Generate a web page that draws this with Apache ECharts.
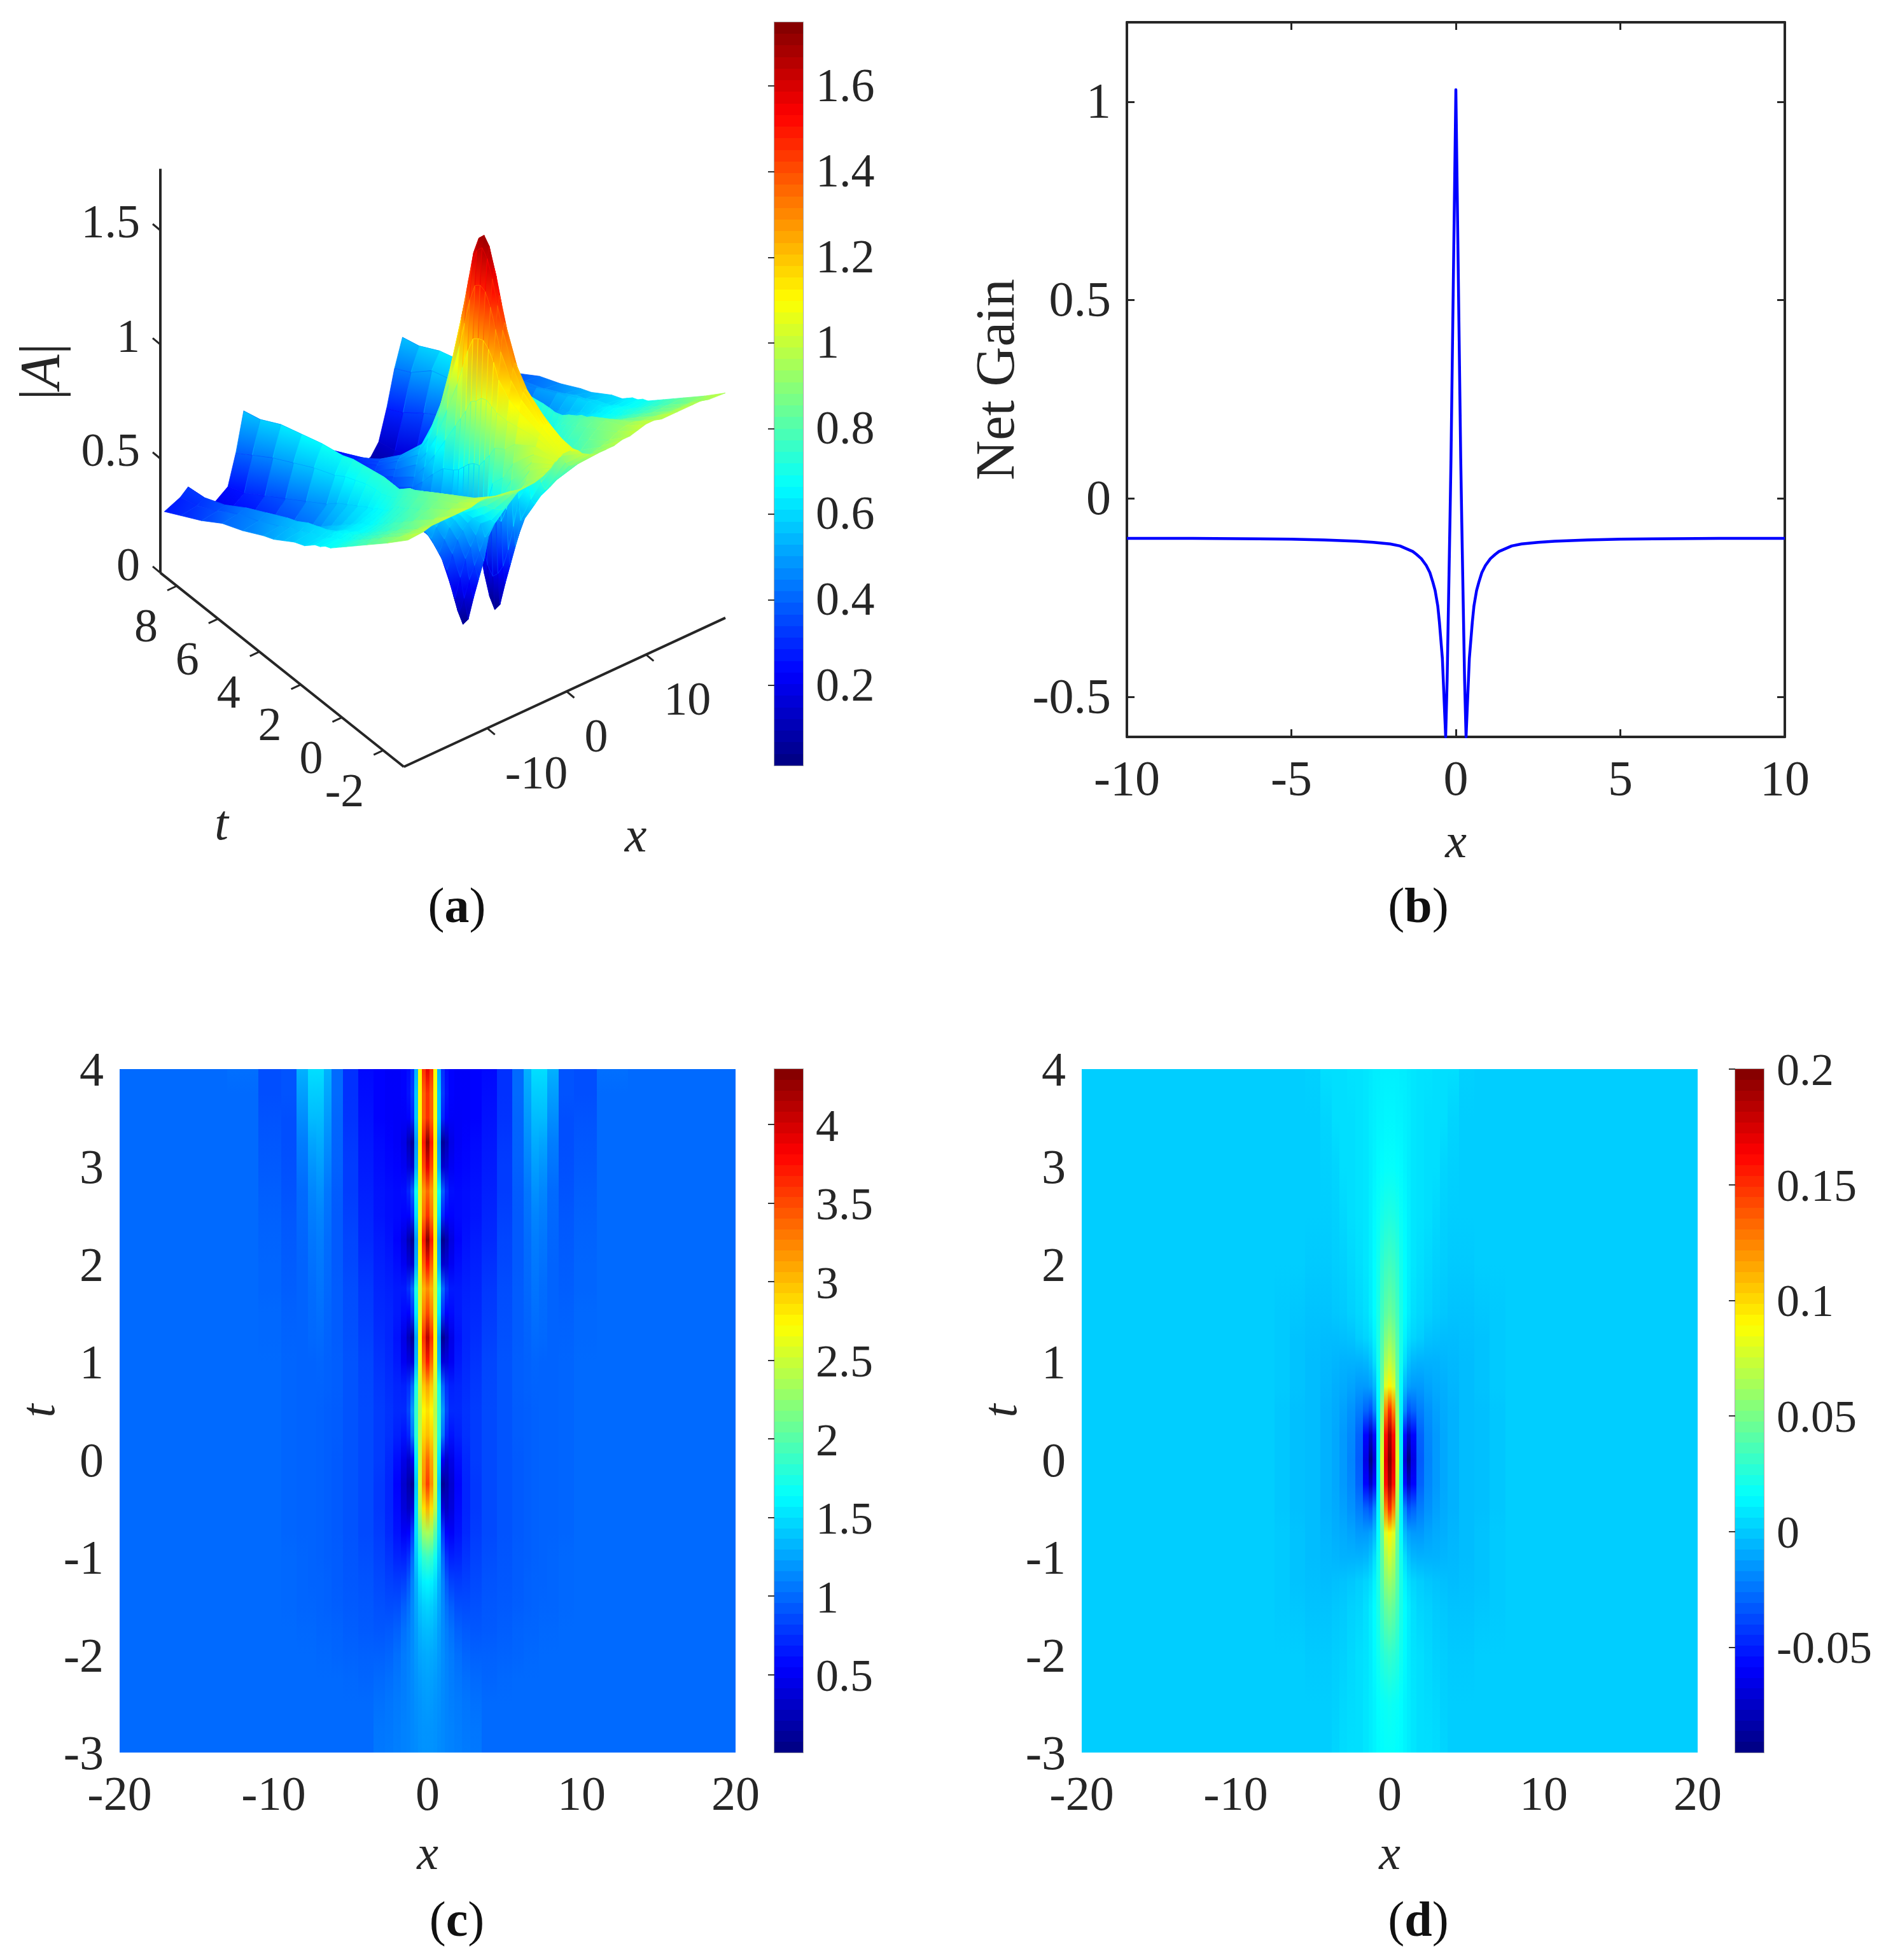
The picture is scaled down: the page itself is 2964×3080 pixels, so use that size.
<!DOCTYPE html>
<html>
<head>
<meta charset="utf-8">
<style>html,body{margin:0;padding:0;background:#fff}#main{width:2964px;height:3080px}</style>
<script src="https://cdn.jsdelivr.net/npm/echarts@6/dist/echarts.min.js"></script>
</head>
<body>
<div id="main"></div>
<script>
// ---- panel (a): |A| surface. Rows are t, columns are |x| (surface is symmetric)
var surfT = [-3,-2,-1,-0.5,0,0.25,0.5,0.75,1,1.25,1.5,1.75,2,2.5,3,3.5,4,5,6,7,8,8.8];
var surfX = [0,0.25,0.5,0.75,1,1.25,1.5,1.75,2,2.5,3,4,5,6,7,8,9,10,11,12,14,16,17,18,20];
var surfZ = [
[1.05,1.05,1.05,1.04,1.04,1.03,1.03,1.02,1.01,1.0,.99,.98,.98,.98,.99,.99,1.0,1.01,1.01,1.0,1.0,1.0,1.0,.99,.985],
[1.10,1.10,1.09,1.07,1.05,1.02,.99,.96,.93,.89,.87,.86,.87,.88,.89,.90,.92,.93,.93,.92,.91,.90,.90,.90,.90],
[1.18,1.17,1.14,1.09,1.03,.96,.88,.81,.74,.70,.70,.72,.75,.78,.80,.83,.86,.88,.87,.85,.83,.82,.82,.82,.82],
[1.26,1.24,1.19,1.11,1.02,.90,.78,.70,.63,.60,.62,.66,.70,.73,.76,.79,.83,.85,.84,.81,.79,.78,.78,.78,.78],
[1.40,1.37,1.28,1.16,1.02,.87,.72,.60,.50,.50,.57,.61,.65,.69,.72,.76,.80,.82,.81,.78,.75,.74,.74,.74,.74],
[1.50,1.46,1.36,1.22,1.03,.82,.62,.46,.37,.42,.50,.57,.62,.66,.70,.74,.78,.80,.79,.76,.73,.72,.72,.72,.72],
[1.60,1.56,1.44,1.26,1.04,.78,.52,.34,.27,.34,.43,.52,.58,.63,.67,.72,.77,.79,.78,.75,.71,.70,.71,.70,.70],
[1.68,1.63,1.49,1.28,1.03,.74,.45,.25,.17,.26,.36,.46,.53,.59,.65,.70,.75,.78,.76,.73,.69,.68,.69,.68,.68],
[1.71,1.66,1.50,1.27,1.00,.73,.45,.20,.06,.16,.26,.38,.46,.53,.60,.66,.72,.76,.74,.70,.67,.67,.68,.67,.67],
[1.68,1.63,1.48,1.25,.98,.71,.43,.17,.02,.08,.15,.29,.38,.46,.53,.59,.65,.74,.72,.68,.65,.65,.66,.65,.65],
[1.60,1.55,1.40,1.18,.92,.68,.42,.20,.06,.13,.20,.32,.40,.47,.53,.59,.65,.74,.71,.67,.64,.64,.65,.64,.64],
[1.46,1.41,1.28,1.09,.87,.65,.44,.28,.14,.22,.28,.36,.42,.47,.53,.59,.65,.74,.70,.65,.62,.62,.63,.62,.62],
[1.32,1.28,1.16,1.00,.82,.63,.47,.34,.24,.28,.36,.38,.42,.47,.52,.58,.65,.74,.70,.64,.60,.60,.62,.61,.60],
[1.07,1.04,.96,.85,.72,.60,.48,.40,.35,.34,.36,.38,.41,.45,.51,.58,.65,.73,.69,.61,.56,.57,.60,.59,.58],
[.85,.83,.78,.70,.62,.54,.46,.40,.36,.33,.32,.34,.38,.43,.50,.57,.65,.72,.67,.58,.52,.54,.58,.56,.55],
[.70,.68,.65,.59,.53,.47,.42,.37,.34,.30,.28,.28,.33,.40,.47,.56,.64,.71,.65,.55,.48,.51,.55,.54,.52],
[.58,.57,.54,.50,.45,.41,.37,.33,.30,.26,.23,.22,.27,.34,.43,.53,.62,.69,.62,.51,.44,.48,.53,.51,.50],
[.46,.45,.44,.41,.38,.34,.31,.28,.25,.21,.18,.14,.17,.24,.35,.48,.60,.67,.58,.45,.37,.42,.48,.46,.45],
[.37,.36,.35,.33,.31,.29,.26,.23,.21,.17,.14,.10,.10,.15,.27,.43,.57,.64,.53,.39,.31,.37,.43,.42,.41],
[.30,.30,.29,.27,.26,.24,.22,.20,.18,.15,.12,.09,.08,.11,.20,.37,.54,.61,.48,.33,.26,.32,.37,.36,.35],
[.25,.25,.24,.23,.22,.20,.19,.17,.16,.13,.11,.08,.07,.09,.15,.30,.46,.56,.42,.27,.22,.27,.33,.31,.30],
[.21,.21,.20,.19,.18,.17,.16,.15,.14,.12,.10,.08,.07,.08,.13,.26,.42,.54,.37,.24,.19,.24,.32,.29,.26]
];
var surfTickX = [-10,0,10];
var surfTickT = [-2,0,2,4,6,8];
var surfTickZ = [0,0.5,1,1.5];

// ---- panel (b): net gain
var gainX = [-10,-8,-6,-5,-4,-3,-2.5,-2,-1.7,-1.31,-1.2,-1.05,-0.9,-0.79,-0.7,-0.63,-0.55,-0.5,-0.41,-0.31,-0.265,-0.18,-0.148,0,
             0.148,0.18,0.265,0.31,0.41,0.5,0.55,0.63,0.7,0.79,0.9,1.05,1.2,1.31,1.7,2,2.5,3,4,5,6,8,10];
var gainY = [-0.1,-0.1,-0.101,-0.102,-0.104,-0.107,-0.11,-0.114,-0.119,-0.133,-0.14,-0.151,-0.168,-0.186,-0.21,-0.231,-0.27,-0.311,-0.402,-0.6,-0.456,-0.06,0.1,1.03,
             0.1,-0.06,-0.456,-0.6,-0.402,-0.311,-0.27,-0.231,-0.21,-0.186,-0.168,-0.151,-0.14,-0.133,-0.119,-0.114,-0.11,-0.107,-0.104,-0.102,-0.101,-0.1,-0.1];
var gainTickY = [-0.5,0,0.5,1];

// ---- panel (c): rows are t, columns are |x|
var fieldCT = [4,3.75,3.5,3.25,3,2.75,2.5,2.25,2,1.75,1.5,1.25,1,0.75,0.5,0.25,0,-0.25,-0.5,-0.75,-1,-1.25,-1.5,-1.75,-2,-2.25,-2.5,-2.75,-3];
var fieldCX = [0,0.25,0.5,0.75,1,1.25,1.5,2,2.5,3,4,5,6,6.5,7,7.5,8,9,10,12,14,17,20];
var fieldC = [
[3.9,3.6,2.7,1.3,.75,.6,.55,.52,.52,.55,.58,.75,1.0,1.3,1.5,1.5,1.3,.9,.88,1.02,1,1,1],
[3.6,3.4,2.7,1.4,.8,.62,.55,.53,.53,.55,.6,.75,1.0,1.25,1.42,1.42,1.22,.9,.88,1,1,1,1],
[3.6,3.4,2.7,1.4,.7,.55,.52,.52,.53,.55,.62,.76,.98,1.2,1.35,1.35,1.15,.88,.9,1,1,1,1],
[4.3,3.7,2.8,1.2,.12,.25,.45,.52,.55,.58,.64,.78,.97,1.15,1.28,1.25,1.08,.88,.92,1,1,1,1],
[3.9,3.5,2.75,1.3,.35,.4,.5,.55,.57,.6,.66,.8,.96,1.1,1.22,1.18,1.04,.89,.93,1,1,1,1],
[3.35,3.15,2.6,1.7,.95,.7,.6,.58,.6,.62,.68,.8,.94,1.05,1.16,1.12,1.0,.9,.95,1,1,1,1],
[3.6,3.3,2.65,1.5,.7,.55,.55,.58,.6,.63,.7,.82,.93,1.03,1.11,1.08,.99,.92,.96,1,1,1,1],
[4.3,3.7,2.8,1.2,.08,.22,.42,.55,.62,.66,.72,.84,.93,1.01,1.08,1.05,.98,.93,.97,1,1,1,1],
[3.75,3.4,2.7,1.3,.35,.38,.5,.6,.65,.68,.75,.85,.93,1.0,1.06,1.03,.97,.94,.98,1,1,1,1],
[3.2,3.05,2.55,1.75,1.0,.75,.65,.65,.68,.7,.78,.87,.94,.99,1.04,1.01,.97,.95,.98,1,1,1,1],
[3.5,3.25,2.6,1.55,.75,.55,.58,.65,.7,.72,.8,.88,.94,.98,1.02,1.0,.97,.96,.99,1,1,1,1],
[4.1,3.6,2.75,1.25,.1,.25,.45,.62,.7,.74,.82,.89,.94,.97,1.0,.99,.97,.97,.99,1,1,1,1],
[3.7,3.35,2.65,1.35,.4,.42,.5,.65,.72,.76,.84,.9,.95,.96,.98,.97,.97,.98,1,1,1,1,1],
[3.1,2.95,2.5,1.75,1.0,.75,.68,.7,.74,.78,.85,.9,.95,.96,.97,.97,.97,.98,1,1,1,1,1],
[2.85,2.75,2.4,1.85,1.2,.85,.72,.72,.76,.8,.86,.9,.94,.95,.96,.97,.97,.98,1,1,1,1,1],
[3.0,2.9,2.45,1.8,1.05,.7,.62,.68,.75,.8,.86,.9,.94,.95,.96,.97,.97,.98,1,1,1,1,1],
[3.35,3.1,2.5,1.55,.5,.35,.45,.6,.72,.8,.86,.9,.93,.95,.96,.97,.97,.98,1,1,1,1,1],
[3.55,3.2,2.55,1.4,.1,.2,.35,.55,.7,.78,.86,.9,.93,.95,.96,.97,.97,.98,1,1,1,1,1],
[3.05,2.85,2.4,1.5,.4,.3,.4,.58,.7,.78,.86,.9,.93,.95,.96,.97,.97,.98,1,1,1,1,1],
[2.35,2.3,2.0,1.5,.8,.55,.52,.62,.72,.8,.86,.9,.93,.95,.96,.97,.97,.98,1,1,1,1,1],
[1.9,1.85,1.7,1.4,1.0,.75,.68,.7,.77,.83,.88,.91,.94,.95,.96,.97,.98,.99,1,1,1,1,1],
[1.6,1.58,1.5,1.3,1.1,.92,.82,.8,.82,.86,.9,.92,.94,.96,.97,.97,.98,.99,1,1,1,1,1],
[1.45,1.43,1.38,1.26,1.13,1.02,.95,.88,.87,.89,.92,.93,.95,.96,.97,.98,.98,.99,1,1,1,1,1],
[1.35,1.34,1.3,1.22,1.14,1.08,1.03,.96,.93,.92,.93,.95,.97,.98,.98,.99,.99,1,1,1,1,1,1],
[1.28,1.27,1.25,1.2,1.15,1.1,1.07,1.02,.98,.96,.96,.97,.98,.99,.99,1,1,1,1,1,1,1,1],
[1.24,1.23,1.21,1.18,1.14,1.11,1.08,1.05,1.02,1.0,.98,.99,1,1,1,1,1,1,1,1,1,1,1],
[1.21,1.2,1.18,1.16,1.13,1.11,1.09,1.07,1.05,1.03,1,1,1,1,1,1,1,1,1,1,1,1,1],
[1.18,1.18,1.17,1.15,1.13,1.11,1.1,1.08,1.06,1.05,1,1,1,1,1,1,1,1,1,1,1,1,1],
[1.17,1.17,1.16,1.14,1.13,1.11,1.1,1.09,1.07,1.06,1,1,1,1,1,1,1,1,1,1,1,1,1]
];

// ---- panel (d): rows are t, columns are |x|
var fieldDT = [4,3.5,3,2.5,2,1.5,1.25,1,0.75,0.5,0.25,0,-0.25,-0.5,-0.75,-1,-1.25,-1.5,-2,-2.5,-3];
var fieldDX = [0,0.25,0.5,0.75,1,1.25,1.5,2,2.5,3,3.5,4,5,6,7,8,12,20];
var fieldD = [
[.011,.011,.011,.010,.010,.009,.008,.007,.007,.006,.006,.006,.002,.001,.001,.001,.001,.001],
[.013,.013,.012,.012,.011,.010,.008,.007,.006,.006,.006,.003,.001,.001,.001,.001,.001,.001],
[.016,.016,.015,.014,.012,.010,.008,.007,.006,.006,.003,.002,.001,.001,.001,.001,.001,.001],
[.024,.023,.021,.017,.014,.011,.008,.007,.006,.004,.002,.001,.001,.001,.001,.001,.001,.001],
[.034,.032,.028,.020,.015,.011,.008,.006,.004,.002,.001,.000,.000,.001,.001,.001,.001,.001],
[.046,.042,.034,.022,.015,.010,.006,.004,.002,.000,-.001,-.002,-.002,-.001,.000,.001,.001,.001],
[.058,.052,.038,.022,.012,.006,.003,.001,-.002,-.003,-.004,-.004,-.003,-.002,.000,.001,.001,.001],
[.072,.064,.042,.020,.006,-.002,-.006,-.007,-.007,-.007,-.006,-.005,-.004,-.002,.000,.001,.001,.001],
[.092,.080,.045,.015,-.005,-.012,-.014,-.014,-.011,-.009,-.008,-.006,-.004,-.002,.000,.001,.001,.001],
[.150,.125,.058,.012,-.020,-.035,-.030,-.022,-.016,-.012,-.009,-.007,-.004,-.003,-.001,.001,.001,.001],
[.190,.160,.070,.010,-.055,-.075,-.058,-.030,-.019,-.014,-.010,-.007,-.004,-.003,-.001,.001,.001,.001],
[.200,.170,.080,.010,-.070,-.095,-.066,-.032,-.020,-.014,-.010,-.007,-.004,-.003,-.001,.001,.001,.001],
[.190,.160,.070,.010,-.055,-.075,-.058,-.030,-.019,-.014,-.010,-.007,-.004,-.003,-.001,.001,.001,.001],
[.150,.125,.058,.012,-.020,-.035,-.030,-.022,-.016,-.012,-.009,-.007,-.004,-.003,-.001,.001,.001,.001],
[.092,.080,.045,.015,-.005,-.012,-.014,-.014,-.011,-.009,-.008,-.006,-.004,-.002,.000,.001,.001,.001],
[.075,.066,.042,.020,.006,-.002,-.006,-.007,-.007,-.007,-.006,-.005,-.004,-.002,.000,.001,.001,.001],
[.060,.055,.040,.022,.012,.006,.003,.001,-.001,-.002,-.003,-.004,-.003,-.002,.000,.001,.001,.001],
[.048,.044,.035,.022,.015,.010,.006,.003,.002,.000,-.001,-.002,-.002,-.001,.000,.001,.001,.001],
[.030,.028,.025,.019,.014,.010,.007,.006,.004,.002,.001,.000,.000,.001,.001,.001,.001,.001],
[.019,.018,.017,.015,.012,.010,.008,.006,.005,.004,.002,.001,.001,.001,.001,.001,.001,.001],
[.016,.016,.015,.014,.012,.010,.008,.006,.006,.005,.003,.001,.001,.001,.001,.001,.001,.001]
];

// colour limits and colorbar ticks
var climA = [0.013,1.749], climC = [0.004,4.352], climD = [-0.0956,0.2];
var barTicksA = [0.2,0.4,0.6,0.8,1,1.2,1.4,1.6];
var barTicksC = [0.5,1,1.5,2,2.5,3,3.5,4];
var barTicksD = [-0.05,0,0.05,0.1,0.15,0.2];
var jetStops = [[0,[0,0,127]],[0.125,[0,0,255]],[0.375,[0,255,255]],[0.625,[255,255,0]],[0.875,[255,0,0]],[1,[127,0,0]]];

var serif = '"Liberation Serif","Times New Roman",serif';
var ink = '#262626';

function jet(v, clim) {
    var f = Math.max(0, Math.min(1, (v - clim[0]) / (clim[1] - clim[0])));
    for (var i = 1; i < jetStops.length; i++) {
        if (f <= jetStops[i][0]) {
            var a = jetStops[i - 1], b = jetStops[i], k = (f - a[0]) / (b[0] - a[0]);
            return 'rgb(' + [0, 1, 2].map(function (c) { return Math.round(a[1][c] + (b[1][c] - a[1][c]) * k); }).join(',') + ')';
        }
    }
    return 'rgb(127,0,0)';
}

function box(l, t, r, b) { return {left: l, top: t, width: r - l, height: b - t, containLabel: false, outerBoundsMode: 'none'}; }
function barBox(l, t, b) { return {left: l, top: t, width: 45, height: b - t, show: true, borderColor: '#aaa', borderWidth: 2, outerBoundsMode: 'none'}; }

// y tick labels sit a little under their tick in the original; a padded rich token moves them down
function lowLabel(size, pad, margin, extra) {
    var lab = {
        show: true, margin: margin, fontSize: size, fontFamily: serif, color: ink,
        formatter: function (v) { return '{n|' + (+(+v).toFixed(3)) + '}'; },
        rich: {n: {padding: [pad, 0, 0, 0], fontSize: size, fontFamily: serif, color: ink}}
    };
    for (var k in extra) lab[k] = extra[k];
    return lab;
}

// ---- 3d projection for panel (a), onto a hidden 0..1 plane
var xRange = [-20.5,20], tRange = [-3,8.8];
function project(x, t, z) {
    var a = (x - xRange[0]) / (xRange[1] - xRange[0]), b = (t - tRange[0]) / (tRange[1] - tRange[0]);
    return [0.431 + a * 0.569 - b * 0.431, a * 0.248 + b * 0.323 + z * 0.38];
}

var fullX = surfX.slice(1).reverse().map(function (v) { return -v; }).concat(surfX);
function surfAt(i, r) { return surfZ[r][Math.abs(i - (surfX.length - 1))]; }

var quadData = [];
for (var r = surfT.length - 2; r >= 0; r--) {
    for (var i = fullX.length - 2; i >= 0; i--) quadData.push([i, r]);
}

function renderQuad(params, api) {
    var i = api.value(0), r = api.value(1);
    var z00 = surfAt(i, r), z10 = surfAt(i + 1, r), z11 = surfAt(i + 1, r + 1), z01 = surfAt(i, r + 1);
    var p = [[i, r, z00], [i + 1, r, z10], [i + 1, r + 1, z11], [i, r + 1, z01]].map(function (c) {
        return api.coord(project(fullX[c[0]], surfT[c[1]], c[2]));
    });
    var dT = Math.abs(z00 + z10 - z11 - z01), dX = Math.abs(z00 + z01 - z10 - z11);
    var g, avg = (z00 + z10 + z11 + z01) / 4, stops;
    if (dT >= dX) {
        g = [(p[0][0] + p[1][0]) / 2, (p[0][1] + p[1][1]) / 2, (p[2][0] + p[3][0]) / 2, (p[2][1] + p[3][1]) / 2];
        stops = [(z00 + z10) / 2, (z11 + z01) / 2];
    } else {
        g = [(p[0][0] + p[3][0]) / 2, (p[0][1] + p[3][1]) / 2, (p[1][0] + p[2][0]) / 2, (p[1][1] + p[2][1]) / 2];
        stops = [(z00 + z01) / 2, (z10 + z11) / 2];
    }
    return {
        type: 'polygon',
        shape: {points: p},
        style: {
            fill: {type: 'linear', x: g[0], y: g[1], x2: g[2], y2: g[3], global: true, colorStops: [
                {offset: 0, color: jet(stops[0], climA)}, {offset: 1, color: jet(stops[1], climA)}
            ]},
            stroke: jet(avg, climA), lineWidth: 0.8
        }
    };
}

// axis lines of the 3d box as [x,t,z] pairs
var box3d = [
    [xRange[0], tRange[1], 0, xRange[0], tRange[1], 1.77],
    [xRange[0], tRange[0], 0, xRange[0], tRange[1], 0],
    [xRange[0], tRange[0], 0, xRange[1], tRange[0], 0]
];
function renderBoxLine(params, api) {
    var a = api.coord(project(api.value(0), api.value(1), api.value(2)));
    var b = api.coord(project(api.value(3), api.value(4), api.value(5)));
    return {type: 'line', shape: {x1: a[0], y1: a[1], x2: b[0], y2: b[1]}, style: {stroke: ink, lineWidth: 4}};
}
var tickLook = [
    {dx: 12, dy: 10, lx: 28, ly: 75, align: 'left'},
    {dx: -15, dy: 7, lx: -30, ly: 68, align: 'right'},
    {dx: -12, dy: -10, lx: -32, ly: -8, align: 'right'}
];
var tickData = [];
surfTickX.forEach(function (v) { tickData.push([v, tRange[0], 0, 0]); });
surfTickT.forEach(function (v) { tickData.push([xRange[0], v, 0, 1]); });
surfTickZ.forEach(function (v) { tickData.push([xRange[0], tRange[1], v, 2]); });
function renderTick3d(params, api) {
    var kind = api.value(3), look = tickLook[kind];
    var p = api.coord(project(api.value(0), api.value(1), api.value(2)));
    var label = kind === 0 ? api.value(0) : kind === 1 ? api.value(1) : api.value(2);
    return {type: 'group', children: [
        {type: 'line', shape: {x1: p[0], y1: p[1], x2: p[0] + look.dx, y2: p[1] + look.dy}, style: {stroke: ink, lineWidth: 3}},
        {type: 'text', style: {text: String(label), x: p[0] + look.lx, y: p[1] + look.ly, fill: ink, fontSize: 74, fontFamily: serif, align: look.align, verticalAlign: 'middle'}}
    ]};
}

// ---- panels (c),(d): one rect per x column with a vertical gradient through the t rows
function makeStrips(xs) {
    var full = xs.slice(1).reverse().map(function (v) { return -v; }).concat(xs), out = [];
    for (var i = 0; i < full.length; i++) {
        var x0 = i === 0 ? full[0] : (full[i - 1] + full[i]) / 2;
        var x1 = i === full.length - 1 ? full[i] : (full[i] + full[i + 1]) / 2;
        out.push([x0, x1, Math.abs(i - (xs.length - 1))]);
    }
    return out;
}
function stripRenderer(ts, table, clim) {
    var tTop = ts[0], tBot = ts[ts.length - 1];
    return function (params, api) {
        var c = api.value(2);
        var p0 = api.coord([api.value(0), tTop]), p1 = api.coord([api.value(1), tBot]);
        var x0 = Math.round(p0[0]), x1 = Math.round(p1[0]);
        return {type: 'rect', shape: {x: x0, y: p0[1], width: x1 - x0, height: p1[1] - p0[1]}, style: {
            fill: {type: 'linear', x: 0, y: p0[1], x2: 0, y2: p1[1], global: true, colorStops: ts.map(function (t, r) {
                return {offset: (tTop - t) / (tTop - tBot), color: jet(table[r][c], clim)};
            })}
        }};
    };
}

// ---- colorbars: 64 flat bands like the jet map of the original
function barRenderer(clim) {
    return function (params, api) {
        var p0 = api.coord([0, clim[1]]), p1 = api.coord([1, clim[0]]), stops = [];
        for (var k = 0; k < 64; k++) {
            var col = jet(clim[1] - (k + 0.5) / 64 * (clim[1] - clim[0]), clim);
            stops.push({offset: k / 64, color: col}, {offset: (k + 1) / 64, color: col});
        }
        return {type: 'rect', shape: {x: p0[0], y: p0[1], width: p1[0] - p0[0], height: p1[1] - p0[1]}, style: {
            fill: {type: 'linear', x: 0, y: p0[1], x2: 0, y2: p1[1], global: true, colorStops: stops}
        }};
    };
}

function hiddenAxis(gridIndex, min, max) { return {type: 'value', gridIndex: gridIndex, min: min, max: max, show: false}; }
function barY(gridIndex, clim, ticks, size, pad) {
    return {
        type: 'value', gridIndex: gridIndex, position: 'right', min: clim[0], max: clim[1], splitLine: {show: false},
        axisLine: {show: false},
        axisTick: {show: true, inside: true, length: 10, customValues: ticks, lineStyle: {color: '#333', width: 2}},
        axisLabel: lowLabel(size, pad, 20, {customValues: ticks})
    };
}
function fieldX(gridIndex) {
    return {
        type: 'value', gridIndex: gridIndex, min: -20, max: 20, interval: 10, splitLine: {show: false},
        axisLine: {show: false}, axisTick: {show: false},
        axisLabel: {margin: 32, fontSize: 76, fontFamily: serif, color: ink},
        name: 'x', nameLocation: 'middle', nameGap: 125, nameMoveOverlap: false,
        nameTextStyle: {fontSize: 76, fontStyle: 'italic', fontFamily: serif, color: ink}
    };
}
function fieldY(gridIndex) {
    return {
        type: 'value', gridIndex: gridIndex, min: -3, max: 4, interval: 1, splitLine: {show: false},
        axisLine: {show: false}, axisTick: {show: false},
        axisLabel: lowLabel(76, 12, 25),
        name: 't', nameLocation: 'middle', nameGap: 85, nameMoveOverlap: false,
        nameTextStyle: {fontSize: 76, fontStyle: 'italic', fontFamily: serif, color: ink}
    };
}
function frameAxis(extra) {
    var ax = {
        type: 'value', splitLine: {show: false},
        axisLine: {show: true, onZero: false, lineStyle: {color: ink, width: 4}},
        axisTick: {show: true, inside: true, length: 12, lineStyle: {color: ink, width: 3}},
        axisLabel: {show: false}
    };
    for (var k in extra) ax[k] = extra[k];
    return ax;
}

var chart = echarts.init(document.getElementById('main'));
var panelLabels = [['a', 718, 1429], ['b', 2229, 1429], ['c', 718, 3022], ['d', 2229, 3022]];
var option = {
    animation: false,
    backgroundColor: '#fff',
    grid: [
        box(252, 261, 1140, 1205),
        barBox(1217, 35, 1203),
        box(1771, 35, 2805, 1158),
        box(188, 1680, 1156, 2754),
        barBox(1217, 1680, 2754),
        box(1700, 1680, 2668, 2754),
        barBox(2727, 1680, 2754)
    ],
    xAxis: [
        hiddenAxis(0, 0, 1),
        hiddenAxis(1, 0, 1),
        frameAxis({gridIndex: 2, position: 'bottom', min: -10, max: 10, interval: 5,
            axisLabel: {show: true, margin: 32, fontSize: 78, fontFamily: serif, color: ink},
            name: 'x', nameLocation: 'middle', nameGap: 131, nameMoveOverlap: false,
            nameTextStyle: {fontSize: 76, fontStyle: 'italic', fontFamily: serif, color: ink}}),
        frameAxis({gridIndex: 2, position: 'top', min: -10, max: 10, interval: 5}),
        fieldX(3),
        hiddenAxis(4, 0, 1),
        fieldX(5),
        hiddenAxis(6, 0, 1)
    ],
    yAxis: [
        hiddenAxis(0, 0, 1),
        barY(1, climA, barTicksA, 74, 8),
        frameAxis({gridIndex: 2, position: 'left', min: -0.6, max: 1.2,
            axisTick: {show: true, inside: true, length: 12, customValues: gainTickY, lineStyle: {color: ink, width: 3}},
            axisLabel: lowLabel(78, 8, 25, {customValues: gainTickY}),
            name: 'Net Gain', nameLocation: 'middle', nameGap: 157, nameMoveOverlap: false,
            nameTextStyle: {fontSize: 87, fontFamily: serif, color: ink}}),
        frameAxis({gridIndex: 2, position: 'right', min: -0.6, max: 1.2,
            axisTick: {show: true, inside: true, length: 12, customValues: gainTickY, lineStyle: {color: ink, width: 3}}}),
        fieldY(3),
        barY(4, climC, barTicksC, 72, 14),
        fieldY(5),
        barY(6, climD, barTicksD, 72, 12)
    ],
    series: [
        {type: 'custom', name: 'surface', coordinateSystem: 'cartesian2d', xAxisIndex: 0, yAxisIndex: 0, clip: false,
            renderItem: renderQuad, data: quadData, encode: {x: 0, y: 1}, z: 2, silent: true},
        {type: 'custom', name: 'box3d', coordinateSystem: 'cartesian2d', xAxisIndex: 0, yAxisIndex: 0, clip: false,
            renderItem: renderBoxLine, data: box3d, encode: {x: 0, y: 1}, z: 1, silent: true},
        {type: 'custom', name: 'ticks3d', coordinateSystem: 'cartesian2d', xAxisIndex: 0, yAxisIndex: 0, clip: false,
            renderItem: renderTick3d, data: tickData, encode: {x: 0, y: 1}, z: 1, silent: true},
        {type: 'custom', name: 'bar a', coordinateSystem: 'cartesian2d', xAxisIndex: 1, yAxisIndex: 1,
            renderItem: barRenderer(climA), data: [[0, climA[0]]], silent: true},
        {type: 'line', name: 'net gain', xAxisIndex: 2, yAxisIndex: 2, showSymbol: false, clip: true,
            lineStyle: {color: '#0000ff', width: 4.5, join: 'round'}, z: 3, silent: true,
            data: gainX.map(function (x, i) { return [x, gainY[i]]; })},
        {type: 'custom', name: 'field c', coordinateSystem: 'cartesian2d', xAxisIndex: 4, yAxisIndex: 4,
            renderItem: stripRenderer(fieldCT, fieldC, climC), data: makeStrips(fieldCX), encode: {x: [0, 1]}, silent: true},
        {type: 'custom', name: 'bar c', coordinateSystem: 'cartesian2d', xAxisIndex: 5, yAxisIndex: 5,
            renderItem: barRenderer(climC), data: [[0, climC[0]]], silent: true},
        {type: 'custom', name: 'field d', coordinateSystem: 'cartesian2d', xAxisIndex: 6, yAxisIndex: 6,
            renderItem: stripRenderer(fieldDT, fieldD, climD), data: makeStrips(fieldDX), encode: {x: [0, 1]}, silent: true},
        {type: 'custom', name: 'bar d', coordinateSystem: 'cartesian2d', xAxisIndex: 7, yAxisIndex: 7,
            renderItem: barRenderer(climD), data: [[0, climD[0]]], silent: true}
    ],
    graphic: panelLabels.map(function (p) {
        return {type: 'text', x: p[1], y: p[2], style: {
            text: '({b|' + p[0] + '})', fill: '#111', fontSize: 78, fontFamily: serif, align: 'center', verticalAlign: 'middle',
            rich: {b: {fontWeight: 'bold', fontSize: 78, fontFamily: serif, fill: '#111'}}
        }};
    }).concat([
        {type: 'text', x: 69, y: 584, rotation: Math.PI / 2, style: {
            text: '|{i|A}|', fill: ink, fontSize: 88, fontFamily: serif, align: 'center', verticalAlign: 'middle',
            rich: {i: {fontStyle: 'italic', fontSize: 88, fontFamily: serif, fill: ink}}
        }},
        {type: 'text', x: 348, y: 1298, style: {text: 't', fill: ink, fontSize: 78, fontStyle: 'italic', fontFamily: serif, align: 'center', verticalAlign: 'middle'}},
        {type: 'text', x: 999, y: 1317, style: {text: 'x', fill: ink, fontSize: 78, fontStyle: 'italic', fontFamily: serif, align: 'center', verticalAlign: 'middle'}}
    ])
};
chart.setOption(option);
</script>
</body>
</html>
